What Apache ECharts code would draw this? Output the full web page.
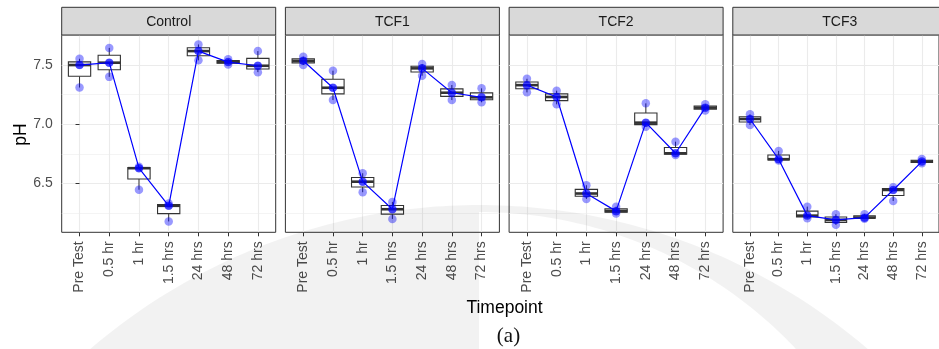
<!DOCTYPE html>
<html>
<head>
<meta charset="utf-8">
<script src="https://cdn.jsdelivr.net/npm/echarts@6/dist/echarts.min.js"></script>
<style>html,body{margin:0;padding:0;background:#fff}#c{width:939px;height:349px}</style>
</head>
<body>
<div id="c"></div>
<script>
// ---- data ----
const timepoints = ['Pre Test', '0.5 hr', '1 hr', '1.5 hrs', '24 hrs', '48 hrs', '72 hrs'];
const panels = ['Control', 'TCF1', 'TCF2', 'TCF3'];
const yTickLabels = [6.5, 7.0, 7.5];
const yMinorTicks = [6.25, 6.75, 7.25, 7.75];
// three replicate pH readings per timepoint
const controlPH = [[7.31, 7.50, 7.553], [7.40, 7.52, 7.645], [6.446, 6.628, 6.64], [6.178, 6.31, 6.33], [7.54, 7.618, 7.674], [7.505, 7.525, 7.55], [7.44, 7.494, 7.618]];
const tcf1PH = [[7.50, 7.536, 7.57], [7.204, 7.308, 7.452], [6.425, 6.514, 6.585], [6.199, 6.281, 6.343], [7.41, 7.472, 7.508], [7.204, 7.266, 7.331], [7.185, 7.227, 7.303]];
const tcf2PH = [[7.269, 7.33, 7.384], [7.168, 7.23, 7.283], [6.368, 6.414, 6.484], [6.245, 6.265, 6.303], [6.979, 7.013, 7.176], [6.74, 6.754, 6.852], [7.115, 7.14, 7.168]];
const tcf3PH = [[6.993, 7.044, 7.083], [6.692, 6.704, 6.774], [6.205, 6.227, 6.303], [6.149, 6.191, 6.239], [6.20, 6.21, 6.239], [6.351, 6.444, 6.466], [6.67, 6.684, 6.705]];
const panelData = [controlPH, tcf1PH, tcf2PH, tcf3PH];

// ---- layout ----
const FONT = "'Liberation Sans', Arial, Helvetica, sans-serif";
const gridLeft = [61.7, 285.4, 509.1, 732.8];
const gridTop = 35, gridW = 214, gridH = 197.3, stripTop = 7.3;
const yMin = 6.086, yMax = 7.754;

function q7(s, p) {
  const h = (s.length - 1) * p, lo = Math.floor(h), hi = Math.ceil(h);
  return s[lo] + (h - lo) * (s[hi] - s[lo]);
}
function boxStats(vals) {
  const s = vals.slice().sort((a, b) => a - b);
  return [s[0], q7(s, 0.25), q7(s, 0.5), q7(s, 0.75), s[s.length - 1]];
}

function renderBox(params, api) {
  const x = api.value(0);
  const mn = api.value(1), q1 = api.value(2), md = api.value(3), q3 = api.value(4), mx = api.value(5);
  const pMd = api.coord([x, md]);
  const pMin = api.coord([x, mn]), pQ1 = api.coord([x, q1]), pQ3 = api.coord([x, q3]), pMax = api.coord([x, mx]);
  const half = api.size([0.75, 0])[0] / 2;
  const cx = pMd[0];
  const ls = { stroke: '#333333', lineWidth: 1 };
  return {
    type: 'group',
    children: [
      { type: 'line', shape: { x1: cx, y1: pMax[1], x2: cx, y2: pQ3[1] }, style: ls },
      { type: 'line', shape: { x1: cx, y1: pQ1[1], x2: cx, y2: pMin[1] }, style: ls },
      { type: 'rect', shape: { x: cx - half, y: pQ3[1], width: 2 * half, height: pQ1[1] - pQ3[1] },
        style: { fill: '#ffffff', stroke: '#333333', lineWidth: 1.1 } },
      { type: 'line', shape: { x1: cx - half, y1: pMd[1], x2: cx + half, y2: pMd[1] },
        style: { stroke: '#333333', lineWidth: 2.6 } }
    ]
  };
}

const idx = timepoints.map((_, k) => k);
const grids = [], xAxes = [], yAxes = [], series = [];
panels.forEach((name, i) => {
  grids.push({ left: gridLeft[i], top: gridTop, width: gridW, height: gridH,
    show: true, borderColor: '#333333', borderWidth: 1, backgroundColor: 'transparent' });
  xAxes.push({
    type: 'value', gridIndex: i, min: -0.6, max: 6.6,
    axisLine: { show: false },
    axisTick: { show: true, length: 4, lineStyle: { color: '#333333', width: 1 }, customValues: idx },
    axisLabel: { customValues: idx, rotate: 90, margin: 9, fontSize: 14, color: '#4D4D4D', fontFamily: FONT,
      formatter: v => timepoints[Math.round(v)] },
    splitLine: { show: true, lineStyle: { color: '#EBEBEB', width: 1.1 } }
  });
  yAxes.push({
    type: 'value', gridIndex: i, min: yMin, max: yMax,
    axisLine: { show: false },
    axisTick: { show: i === 0, length: 4, lineStyle: { color: '#333333', width: 1 }, customValues: yTickLabels },
    axisLabel: { show: i === 0, customValues: yTickLabels, margin: 9, fontSize: 14, color: '#4D4D4D', fontFamily: FONT,
      formatter: v => v.toFixed(1) },
    splitLine: { show: true, lineStyle: { color: '#EBEBEB', width: 1.1 } }
  });
  yAxes.push({
    type: 'value', gridIndex: i, min: yMin, max: yMax,
    axisLine: { show: false },
    axisTick: { show: false, customValues: yMinorTicks },
    axisLabel: { show: false, customValues: yMinorTicks },
    splitLine: { show: true, lineStyle: { color: '#EBEBEB', width: 0.55 } }
  });
  const data = panelData[i];
  const boxes = data.map((vals, k) => [k].concat(boxStats(vals)));
  const pts = [];
  data.forEach((vals, k) => vals.forEach(v => pts.push([k, v])));
  const medians = data.map((vals, k) => [k, boxStats(vals)[2]]);
  series.push({
    type: 'custom', xAxisIndex: i, yAxisIndex: 2 * i, z: 2,
    renderItem: renderBox, data: boxes,
    encode: { x: 0, y: [1, 2, 3, 4, 5] }
  });
  series.push({
    type: 'scatter', xAxisIndex: i, yAxisIndex: 2 * i, z: 3,
    symbol: 'circle', symbolSize: 8.5, data: pts,
    itemStyle: { color: 'rgba(0,0,255,0.5)' }
  });
  series.push({
    type: 'line', xAxisIndex: i, yAxisIndex: 2 * i, z: 4,
    data: medians, symbol: 'circle', symbolSize: 8, showSymbol: true,
    lineStyle: { color: '#0000FF', width: 1.2 },
    itemStyle: { color: 'rgba(0,0,255,0.55)' }
  });
});

const graphic = [];
panels.forEach((name, i) => {
  graphic.push({
    type: 'rect', silent: true, z: 10,
    shape: { x: gridLeft[i], y: stripTop, width: gridW, height: gridTop - stripTop },
    style: { fill: '#D9D9D9', stroke: '#333333', lineWidth: 1 }
  });
  graphic.push({
    type: 'text', silent: true, z: 11,
    x: gridLeft[i] + gridW / 2, y: (stripTop + gridTop) / 2 + 0.5,
    style: { text: name, fontSize: 14, fontFamily: FONT, fill: '#1A1A1A', align: 'center', verticalAlign: 'middle' }
  });
});
graphic.push({
  type: 'text', silent: true, z: 11, x: 21, y: 134.5, rotation: Math.PI / 2,
  style: { text: 'pH', fontSize: 17.5, fontFamily: FONT, fill: '#000000', align: 'center', verticalAlign: 'middle' }
});
graphic.push({
  type: 'text', silent: true, z: 11, x: 504.5, y: 308,
  style: { text: 'Timepoint', fontSize: 17.5, fontFamily: FONT, fill: '#000000', align: 'center', verticalAlign: 'middle' }
});
graphic.push({
  type: 'text', silent: true, z: 11, x: 508.5, y: 336,
  style: { text: '(a)', fontSize: 21, fontFamily: "'Liberation Serif', 'Times New Roman', serif", fill: '#111111', align: 'center', verticalAlign: 'middle' }
});
// faint scan watermark arc (decoration): outer circle and inner circle
(function () {
  const oc = [479, 802, 597], ic = [479, 647, 435], yb = 360;
  const pts = [];
  const a0 = Math.asin((oc[1] - yb) / oc[2]);
  const aL = Math.PI - a0, aR = a0;
  for (let k = 0; k <= 120; k++) {
    const a = aL + (aR - aL) * k / 120;
    pts.push([oc[0] + oc[2] * Math.cos(a), oc[1] - oc[2] * Math.sin(a)]);
  }
  const b0 = Math.asin((ic[1] - yb) / ic[2]);
  for (let k = 0; k <= 60; k++) {
    const a = b0 + (Math.PI / 2 - b0) * k / 60;
    pts.push([ic[0] + ic[2] * Math.cos(a), ic[1] - ic[2] * Math.sin(a)]);
  }
  pts.push([479, yb]);
  graphic.push({
    type: 'polygon', silent: true, z: 100,
    shape: { points: pts },
    style: { fill: 'rgba(0,0,0,0.05)' }
  });
})();

const chart = echarts.init(document.getElementById('c'));
chart.setOption({
  animation: false,
  backgroundColor: '#ffffff',
  grid: grids, xAxis: xAxes, yAxis: yAxes, series: series, graphic: graphic
});
</script>
</body>
</html>
